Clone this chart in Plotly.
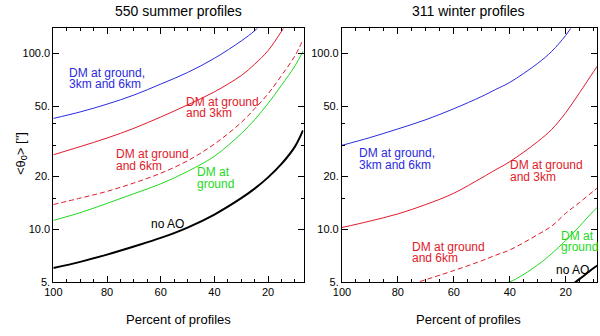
import numpy as np
import plotly.graph_objects as go

# ---- data ----------------------------------------------------------------
# percent of profiles (x) and mean isoplanatic angle <theta0> in arcsec (y)
x_summer = [100, 90, 80, 70, 60, 50, 40, 30, 25, 20, 15, 10, 7]
summer_no_ao = [6.0, 6.5, 7.15, 7.95, 8.9, 10.2, 12.1, 15.0, 17.0, 19.7, 23.5, 29.5, 36.5]
summer_ground = [11.2, 12.4, 14.0, 15.9, 18.1, 21.3, 26.0, 35.0, 42.0, 52.0, 66.0, 85.0, 103.0]
summer_g6 = [13.8, 15.0, 16.4, 18.3, 20.8, 24.5, 30.5, 40.5, 48.5, 59.0, 75.0, 97.0, 120.0]
summer_g3 = [26.5, 29.5, 33.0, 37.5, 43.5, 51.0, 60.5, 75.0, 87.0, 104.0, 134.0, 175.0, 210.0]
summer_all = [42.7, 46.5, 51.5, 58.0, 67.0, 78.0, 94.0, 118.0, 135.0, 160.0, 200.0, 260.0, 310.0]

x_winter = [100, 90, 80, 70, 60, 50, 45, 40, 30, 25, 20, 15, 10, 8]
winter_all = [30.0, 33.2, 37.2, 42.0, 48.5, 57.0, 62.5, 68.5, 88.0, 103.0, 127.0, 165.0, 220.0, 250.0]
winter_g3 = [10.2, 11.1, 12.2, 13.8, 16.0, 19.6, 21.8, 24.2, 31.5, 37.0, 46.0, 60.0, 79.0, 88.0]
winter_g6 = [4.0, 4.3, 4.6, 5.15, 5.8, 6.6, 7.1, 7.6, 9.3, 10.4, 12.3, 14.2, 16.5, 17.5]
winter_ground = [3.2, 3.5, 3.8, 4.1, 4.4, 4.75, 4.85, 5.0, 6.25, 7.25, 8.6, 10.4, 12.7, 13.6]
winter_no_ao = [2.5, 2.8, 3.0, 3.3, 3.6, 3.9, 4.0, 4.15, 4.35, 4.45, 4.6, 5.2, 6.0, 6.3]

titles = ["550 summer profiles", "311 winter profiles"]
y_tickvals = [5, 10, 20, 50, 100]
y_ticktext = ["5.", "10.0", "20.", "50.", "100.0"]
y_minor = [15, 30, 40]
x_tickvals = [100, 80, 60, 40, 20]

BLUE = "#2a2ae0"
RED = "#e01a2a"
GREEN = "#1ed81e"
FONT = "Liberation Sans, Arial, sans-serif"

fig = go.Figure()

def add_line(x, y, color, xa, ya, width=1, dash="solid"):
    fig.add_trace(go.Scatter(x=x, y=y, mode="lines", xaxis=xa, yaxis=ya,
                             line=dict(color=color, width=width, dash=dash, shape="spline"),
                             showlegend=False, hoverinfo="skip"))

add_line(x_summer, summer_all, BLUE, "x", "y")
add_line(x_summer, summer_g3, RED, "x", "y")
add_line(x_summer, summer_g6, RED, "x", "y", dash="5px,3px")
add_line(x_summer, summer_ground, GREEN, "x", "y")
add_line(x_summer, summer_no_ao, "black", "x", "y", width=2)

add_line(x_winter, winter_all, BLUE, "x2", "y2")
add_line(x_winter, winter_g3, RED, "x2", "y2")
add_line(x_winter, winter_g6, RED, "x2", "y2", dash="5px,3px")
add_line(x_winter, winter_ground, GREEN, "x2", "y2")
add_line(x_winter, winter_no_ao, "black", "x2", "y2", width=2)

# curve labels: (x, y, lines, colour, axes)
labels = [
    (94.8, 72.0, ["DM at ground,", "3km and 6km"], BLUE, "x", "y"),
    (51.4, 49.2, ["DM at ground", "and 3km"], RED, "x", "y"),
    (77.4, 24.8, ["DM at ground", "and 6km"], RED, "x", "y"),
    (47.1, 19.5, ["DM at", "ground"], GREEN, "x", "y"),
    (64.5, 10.7, ["no AO"], "black", "x", "y"),
    (94.6, 25.1, ["DM at ground,", "3km and 6km"], BLUE, "x2", "y2"),
    (40.6, 21.4, ["DM at ground", "and 3km"], RED, "x2", "y2"),
    (75.8, 7.36, ["DM at ground", "and 6km"], RED, "x2", "y2"),
    (22.4, 8.5, ["DM at", "ground"], GREEN, "x2", "y2"),
    (24.2, 5.83, ["no AO"], "black", "x2", "y2"),
]
LH = 11.5
for x, y, lines, col, xa, ya in labels:
    n = len(lines)
    for i, t in enumerate(lines):
        fig.add_annotation(x=x, y=np.log10(y), xref=xa, yref=ya, text=t, showarrow=False,
                           xanchor="left", yanchor="middle",
                           yshift=(n - 1) / 2 * LH - i * LH,
                           font=dict(family=FONT, size=12, color=col))

# panel titles, axis titles
for cx, t in [(172 / 600, titles[0]), (467 / 600, titles[1])]:
    fig.add_annotation(x=cx, y=1 - 11 / 336, xref="paper", yref="paper", text=t,
                       showarrow=False, xanchor="center", yanchor="middle",
                       font=dict(family=FONT, size=14, color="black"))
    fig.add_annotation(x=cx, y=1 - 325 / 336, xref="paper", yref="paper",
                       text="Percent of profiles", showarrow=False,
                       xanchor="center", yanchor="middle",
                       font=dict(family=FONT, size=13, color="black"))
fig.add_annotation(x=12 / 600, y=1 - 156 / 336, xref="paper", yref="paper",
                   text="&lt;θ<sub>0</sub>&gt; [\"]", textangle=-90, showarrow=False,
                   xanchor="center", yanchor="middle",
                   font=dict(family=FONT, size=13, color="black"))

xaxis_style = dict(
    showgrid=False, zeroline=False, showline=True, linecolor="black", linewidth=1,
    mirror="ticks", ticks="inside", ticklen=6, tickcolor="black",
    tickvals=x_tickvals, ticktext=[str(v) for v in x_tickvals],
    tickfont=dict(family=FONT, size=11, color="black"),
    minor=dict(ticks="inside", ticklen=3, dtick=5, tick0=0, tickcolor="black"),
)
yaxis_style = dict(
    type="log", range=[np.log10(5), np.log10(139)],
    showgrid=False, zeroline=False, showline=True, linecolor="black", linewidth=1,
    mirror="ticks", ticks="inside", ticklen=6, tickcolor="black",
    tickvals=y_tickvals, ticktext=y_ticktext,
    tickfont=dict(family=FONT, size=11, color="black"),
    minor=dict(ticks="inside", ticklen=3, tickvals=y_minor, tickcolor="black"),
)

fig.update_layout(
    width=600, height=336,
    margin=dict(l=0, r=0, t=0, b=0),
    paper_bgcolor="white", plot_bgcolor="white",
    xaxis=dict(domain=[45 / 600, 299 / 600], range=[100, 6.8], anchor="y", **xaxis_style),
    yaxis=dict(domain=[1 - 287 / 336, 1 - 29 / 336], anchor="x", **yaxis_style),
    xaxis2=dict(domain=[338 / 600, 597 / 600], range=[100, 8.8], anchor="y2", **xaxis_style),
    yaxis2=dict(domain=[1 - 287 / 336, 1 - 29 / 336], anchor="x2", **yaxis_style),
)

# page body has a default 8px margin; drop it so the figure sits at the window corner
fig.write_html("out.html", config={"displayModeBar": False},
               post_script="document.body.style.margin='0';")
